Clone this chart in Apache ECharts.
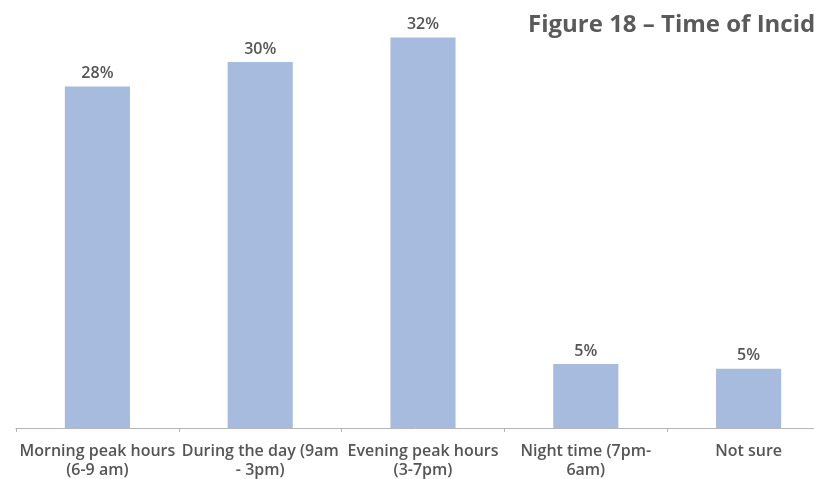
<!DOCTYPE html>
<html><head><meta charset="utf-8">
<script src="https://cdn.jsdelivr.net/npm/echarts@6/dist/echarts.min.js"></script>
<style>html,body{margin:0;padding:0;background:#fff}#c{width:814px;height:479px}</style>
</head><body><div id="c"></div>
<script>
const categories = ['Morning peak hours\n(6-9 am)', 'During the day (9am\n- 3pm)', 'Evening peak hours\n(3-7pm)', 'Night time (7pm-\n6am)', 'Not sure'];
const values = [28, 30, 32, 5.25, 4.85];
const titleText = 'Figure 18 – Time of Incid';

const chart = echarts.init(document.getElementById('c'));
chart.setOption({
  animation: false,
  title: {
    text: titleText, left: 523, top: 8,
    textStyle: { fontFamily: 'Open Sans', fontWeight: 'bold', fontSize: 24, color: '#5a5a5a' }
  },
  grid: { left: 16, top: 1, bottom: 51, right: -16, containLabel: false, outerBoundsMode: 'none' },
  xAxis: {
    type: 'category', data: categories,
    axisLine: { lineStyle: { color: '#b5b5b5', width: 1 } },
    axisTick: { show: true, length: 4, lineStyle: { color: '#b5b5b5' } },
    axisLabel: { interval: 0, fontFamily: 'Open Sans', fontWeight: 600, fontSize: 16, color: '#555', lineHeight: 19, margin: 14 }
  },
  yAxis: { type: 'value', min: 0, max: 35, show: false, splitLine: { show: false } },
  series: [{
    type: 'bar', data: values, barWidth: '40%',
    itemStyle: { color: '#a7bbdf' },
    label: {
      show: true, position: 'top', distance: 5,
      formatter: p => Math.round(p.value) + '%',
      fontFamily: 'Open Sans', fontWeight: 600, fontSize: 16, color: '#555'
    }
  }]
});
</script></body></html>
